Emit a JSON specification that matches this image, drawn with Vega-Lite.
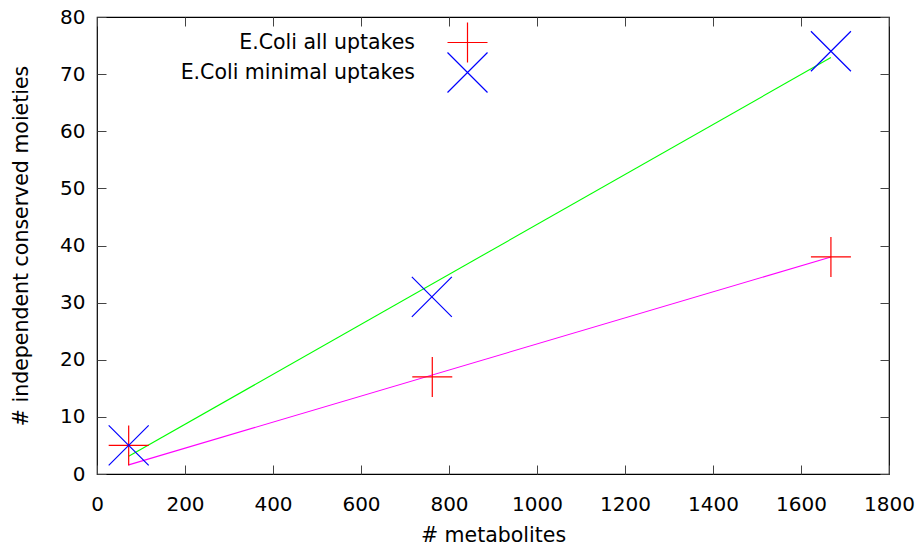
{
  "$schema": "https://vega.github.io/schema/vega-lite/v6.json",
  "width": 792,
  "height": 457,
  "autosize": {"type": "none"},
  "padding": {"left": 97, "top": 17, "right": 30, "bottom": 74},
  "background": "white",
  "config": {
    "font": "DejaVu Sans",
    "view": {"stroke": "black", "strokeWidth": 1.2},
    "axis": {
      "grid": false,
      "domain": false,
      "ticks": true,
      "tickSize": -9,
      "tickColor": "#444444",
      "tickWidth": 1,
      "labelFlush": false,
      "labelFont": "DejaVu Sans",
      "labelFontSize": 20,
      "labelColor": "black",
      "titleFont": "DejaVu Sans",
      "titleFontSize": 20.5,
      "titleFontWeight": "normal",
      "titleColor": "black"
    },
    "legend": {
      "orient": "none",
      "title": null,
      "padding": 0,
      "labelAlign": "right",
      "labelOffset": -73.5,
      "symbolSize": 1600,
      "symbolStrokeWidth": 1.2,
      "labelFontSize": 20.5,
      "labelFont": "DejaVu Sans",
      "labelColor": "black",
      "labelLimit": 400
    }
  },
  "datasets": {
    "fits": [
      {"fit": "all", "metabolites": 72, "moieties": 1.6},
      {"fit": "all", "metabolites": 1668, "moieties": 38},
      {"fit": "minimal", "metabolites": 72, "moieties": 3.1},
      {"fit": "minimal", "metabolites": 1668, "moieties": 72.9}
    ],
    "points": [
      {"series": "E.Coli all uptakes", "metabolites": 72, "moieties": 5},
      {"series": "E.Coli all uptakes", "metabolites": 762, "moieties": 17},
      {"series": "E.Coli all uptakes", "metabolites": 1668, "moieties": 38},
      {"series": "E.Coli minimal uptakes", "metabolites": 72, "moieties": 5},
      {"series": "E.Coli minimal uptakes", "metabolites": 761, "moieties": 31},
      {"series": "E.Coli minimal uptakes", "metabolites": 1668, "moieties": 74}
    ]
  },
  "resolve": {
    "axis": {"x": "independent", "y": "independent"},
    "scale": {"color": "independent", "shape": "independent"},
    "legend": {"color": "independent", "shape": "independent"}
  },
  "layer": [
    {
      "data": {"name": "fits"},
      "transform": [{"filter": "datum.fit === 'all'"}],
      "mark": {"type": "line", "strokeWidth": 1.1, "color": "#ff00ff"},
      "encoding": {
        "x": {
          "field": "metabolites",
          "type": "quantitative",
          "scale": {"domain": [0, 1800], "nice": false, "zero": false},
          "axis": {"orient": "top", "labels": false, "title": null, "values": [0, 200, 400, 600, 800, 1000, 1200, 1400, 1600, 1800]}
        },
        "y": {
          "field": "moieties",
          "type": "quantitative",
          "scale": {"domain": [0, 80], "nice": false},
          "axis": {"orient": "right", "labels": false, "title": null, "values": [0, 10, 20, 30, 40, 50, 60, 70, 80]}
        }
      }
    },
    {
      "data": {"name": "fits"},
      "transform": [{"filter": "datum.fit === 'minimal'"}],
      "mark": {"type": "line", "strokeWidth": 1.1, "color": "#00ff00"},
      "encoding": {
        "x": {"field": "metabolites", "type": "quantitative", "axis": null},
        "y": {"field": "moieties", "type": "quantitative", "axis": null}
      }
    },
    {
      "data": {"name": "points"},
      "transform": [{"filter": "datum.series === 'E.Coli all uptakes'"}],
      "mark": {"type": "point", "filled": false, "size": 1600, "strokeWidth": 1.2, "opacity": 1},
      "encoding": {
        "x": {
          "field": "metabolites",
          "type": "quantitative",
          "axis": {"orient": "bottom", "title": "# metabolites", "format": "d", "values": [0, 200, 400, 600, 800, 1000, 1200, 1400, 1600, 1800], "labelPadding": 29, "titlePadding": 11}
        },
        "y": {
          "field": "moieties",
          "type": "quantitative",
          "axis": {"orient": "left", "title": "# independent conserved moieties", "format": "d", "values": [0, 10, 20, 30, 40, 50, 60, 70, 80], "labelPadding": 21, "titlePadding": 28}
        },
        "color": {
          "field": "series",
          "type": "nominal",
          "scale": {"domain": ["E.Coli all uptakes"], "range": ["#ff0000"]},
          "legend": {"legendX": 349.5, "legendY": 4.5}
        },
        "shape": {
          "field": "series",
          "type": "nominal",
          "scale": {"domain": ["E.Coli all uptakes"], "range": ["M-1,0L1,0M0,-1L0,1"]},
          "legend": {"legendX": 349.5, "legendY": 4.5}
        }
      }
    },
    {
      "data": {"name": "points"},
      "transform": [{"filter": "datum.series === 'E.Coli minimal uptakes'"}],
      "mark": {"type": "point", "filled": false, "size": 1600, "strokeWidth": 1.2, "opacity": 1},
      "encoding": {
        "x": {"field": "metabolites", "type": "quantitative", "axis": null},
        "y": {"field": "moieties", "type": "quantitative", "axis": null},
        "color": {
          "field": "series",
          "type": "nominal",
          "scale": {"domain": ["E.Coli minimal uptakes"], "range": ["#0000ff"]},
          "legend": {"legendX": 349.5, "legendY": 34.5}
        },
        "shape": {
          "field": "series",
          "type": "nominal",
          "scale": {"domain": ["E.Coli minimal uptakes"], "range": ["M-1,-1L1,1M-1,1L1,-1"]},
          "legend": {"legendX": 349.5, "legendY": 34.5}
        }
      }
    }
  ]
}
